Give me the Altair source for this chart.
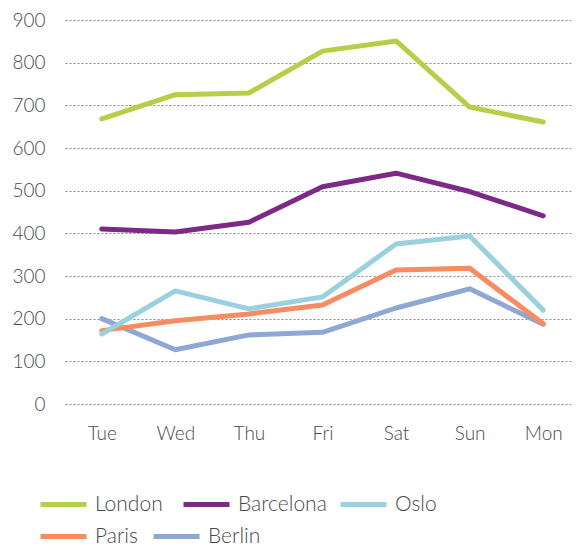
import altair as alt
import pandas as pd

days = ["Tue", "Wed", "Thu", "Fri", "Sat", "Sun", "Mon"]
cities = ["London", "Barcelona", "Oslo", "Paris", "Berlin"]
colors = ["#b5cf48", "#7d2a86", "#9bd1df", "#f78b61", "#8fa7d4"]

london = [668, 725, 729, 827, 851, 696, 661]
barcelona = [410, 403, 426, 509, 541, 498, 441]
oslo = [164, 265, 223, 251, 375, 394, 220]
paris = [172, 195, 211, 232, 314, 318, 188]
berlin = [200, 127, 162, 168, 225, 270, 187]

series = {"London": london, "Barcelona": barcelona, "Oslo": oslo, "Paris": paris, "Berlin": berlin}
rows = []
for c in cities:
    for d, v in zip(days, series[c]):
        rows.append({"day": d, "city": c, "value": v})
df = pd.DataFrame(rows)

FONT = "Lato"
TXT = "#4a4a4a"

x_enc = alt.X("day:N", sort=days, scale=alt.Scale(type="point", padding=0.5),
              axis=alt.Axis(title=None, labelAngle=0, domain=False, ticks=False, grid=False,
                            labelPadding=20, labelFontSize=19, labelFont=FONT, labelColor=TXT,
                            labelFontWeight=300))
y_enc = alt.Y("value:Q", scale=alt.Scale(domain=[0, 900], nice=False),
              axis=alt.Axis(title=None, values=[0, 100, 200, 300, 400, 500, 600, 700, 800, 900],
                            domain=False, ticks=False, labelPadding=20, labelFontSize=19,
                            labelFont=FONT, labelColor=TXT, labelFontWeight=300,
                            gridColor="#8c8c8c", gridDash=[2, 2], gridWidth=1.2))

# legend entry placement (legend x, legend y) for each city
legend_pos = {
    "London": (-27, 459),
    "Barcelona": (116, 459),
    "Oslo": (273, 459),
    "Paris": (-27, 491),
    "Berlin": (86, 491),
}


def city_layer(city):
    lx, ly = legend_pos[city]
    return alt.Chart(df).transform_filter(alt.datum.city == city).mark_line(
        strokeWidth=5, strokeCap="round", strokeJoin="round").encode(
        x=x_enc, y=y_enc,
        color=alt.Color("city:N",
                        scale=alt.Scale(domain=[city], range=[colors[cities.index(city)]]),
                        legend=alt.Legend(title=None, orient="none", legendX=lx, legendY=ly,
                                          direction="horizontal", symbolType="stroke",
                                          symbolSize=2116, symbolStrokeWidth=5,
                                          labelFontSize=21, labelFont=FONT, labelColor=TXT,
                                          labelFontWeight=300, labelOffset=6)),
    )


chart = alt.layer(
    city_layer("Berlin"), city_layer("Paris"), city_layer("Oslo"),
    city_layer("Barcelona"), city_layer("London"),
).resolve_scale(color="independent").properties(
    width=515, height=384,
    autosize=alt.AutoSizeParams(type="none"),
    padding={"left": 57, "top": 12, "right": -7, "bottom": 143},
).configure_view(stroke=None)

chart.save("out.html", embed_options={"renderer": "svg", "actions": False})
